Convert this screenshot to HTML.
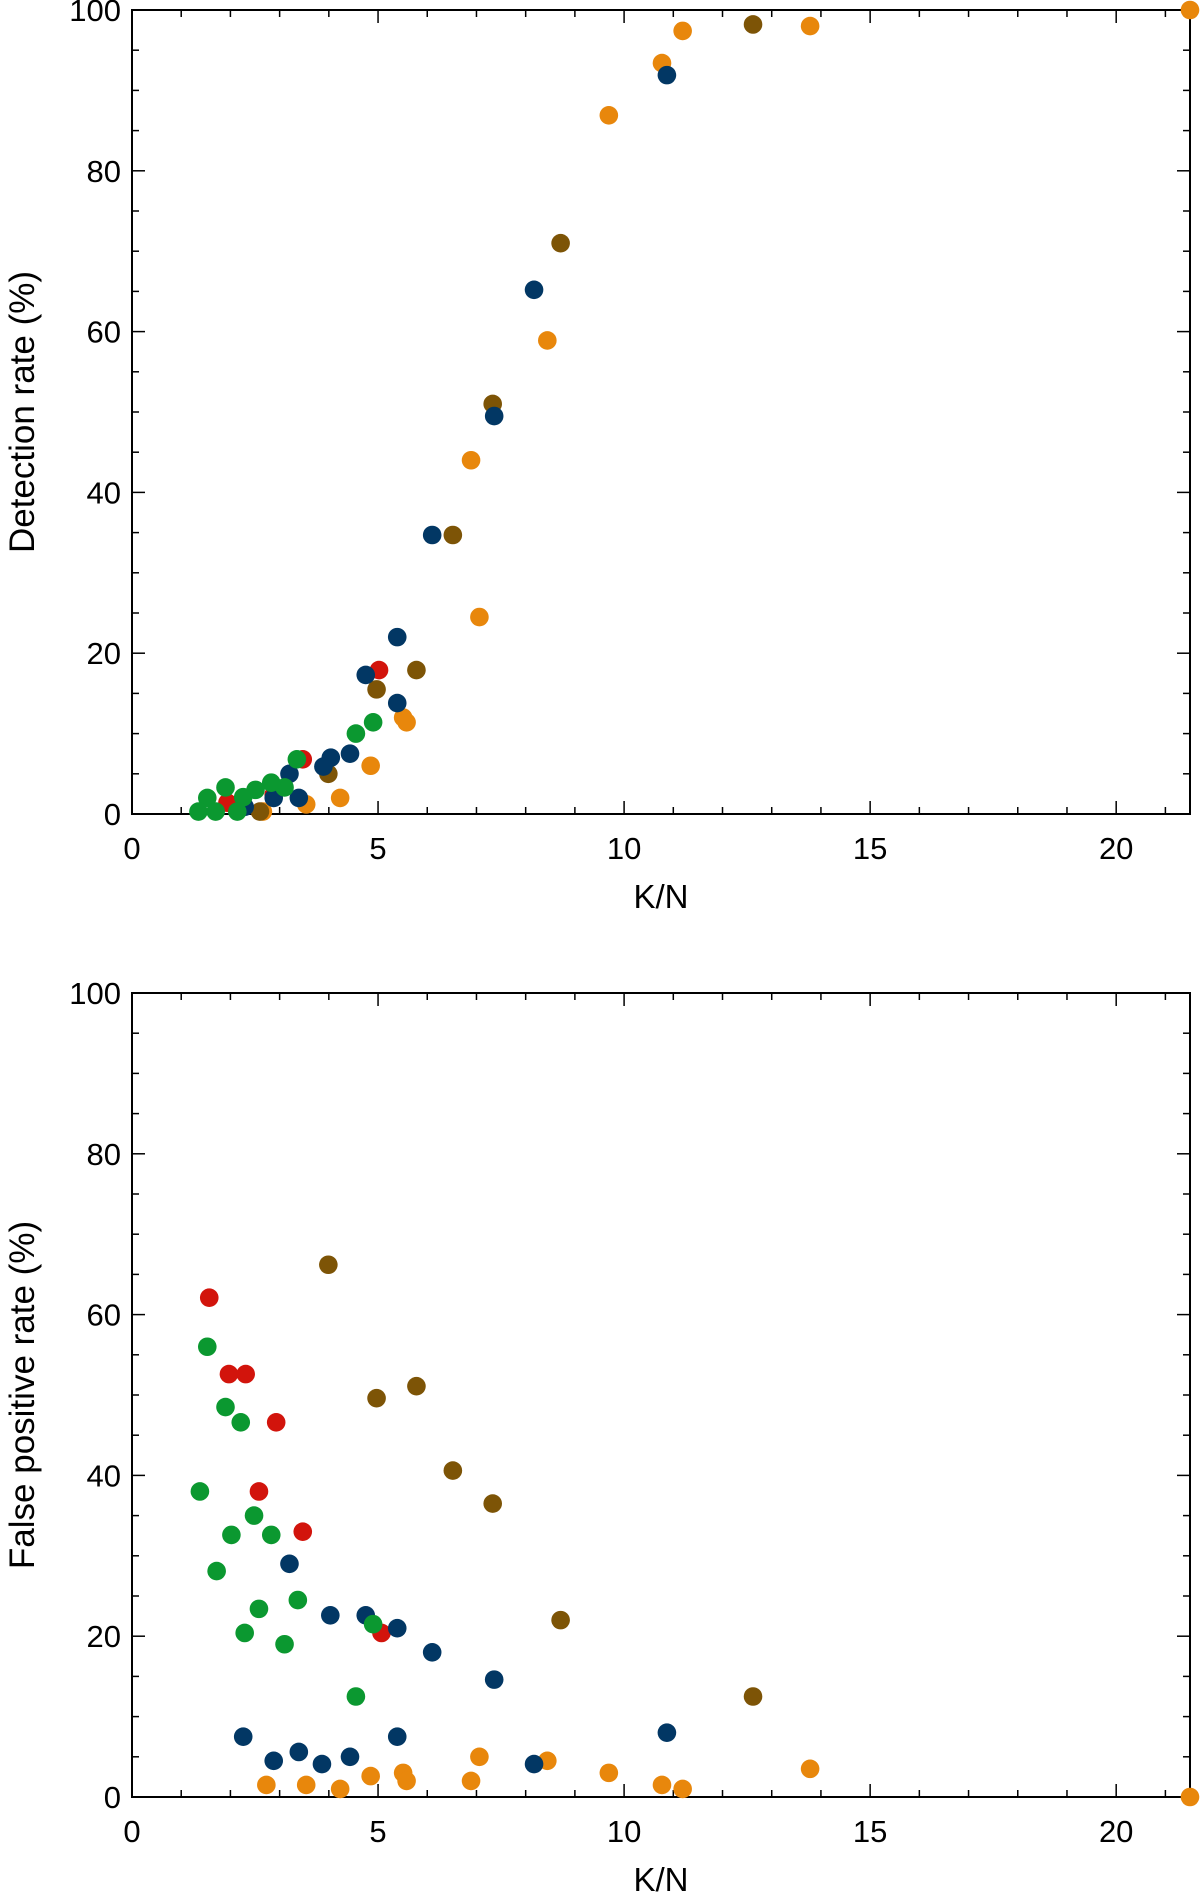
<!DOCTYPE html>
<html><head><meta charset="utf-8">
<style>
html,body{margin:0;padding:0;background:#fff;}
svg{display:block;font-family:"Liberation Sans",Arial,sans-serif;}
</style></head>
<body>
<svg id="chart" width="1200" height="1896" viewBox="0 0 1200 1896" xmlns="http://www.w3.org/2000/svg"></svg>
<script>
const xTicks=[0,5,10,15,20];
const yTicks=[0,20,40,60,80,100];
const seriesNames=['red','orange','brown','navy','green'];
const seriesColors={red:'#d2140c',orange:'#e8870c',brown:'#7d5406',navy:'#023764',green:'#0b9830'};
// detection rate
const detRedX=[5.02,3.47,1.94,2.88];
const detRedY=[17.9,6.8,1.4,2.4];
const detOrangeX=[10.77,11.19,13.78,21.5,9.69,8.44,6.89,7.06,5.51,5.58,4.85,4.23,3.54,2.66];
const detOrangeY=[93.4,97.4,98,100,86.9,58.9,44,24.5,12,11.4,6,2,1.2,0.3];
const detBrownX=[12.62,8.71,7.33,6.52,5.78,4.97,3.99,2.6];
const detBrownY=[98.2,71,51,34.7,17.9,15.5,5,0.3];
const detNavyX=[10.87,8.17,7.36,6.10,5.39,5.39,4.75,4.43,4.04,3.89,3.39,3.2,2.88,2.29];
const detNavyY=[91.9,65.2,49.5,34.7,22,13.8,17.3,7.5,7,5.9,2,5,2,0.9];
const detGreenX=[4.9,4.55,3.35,3.1,2.83,2.51,2.26,1.9,1.53,1.35,1.7,2.14];
const detGreenY=[11.4,10,6.8,3.3,3.9,3,2.1,3.3,2,0.3,0.3,0.3];
// false positive rate
const fpRedX=[1.57,1.97,2.31,2.93,2.58,3.47,5.07];
const fpRedY=[62.1,52.6,52.6,46.6,38,33,20.4];
const fpOrangeX=[2.73,3.54,4.23,4.85,5.51,5.58,6.89,7.06,8.44,9.69,10.77,11.19,13.78,21.5];
const fpOrangeY=[1.5,1.5,1,2.6,3,2,2,5,4.5,3,1.5,1,3.5,0];
const fpBrownX=[3.99,4.97,5.78,6.52,7.33,8.71,12.62];
const fpBrownY=[66.2,49.6,51.1,40.6,36.5,22,12.5];
const fpNavyX=[3.2,4.03,4.75,5.39,6.1,7.36,10.87,2.26,5.39,3.39,4.43,2.88,3.86,8.17];
const fpNavyY=[29,22.6,22.6,21,18,14.6,8,7.5,7.5,5.6,5,4.5,4.1,4.1];
const fpGreenX=[1.53,1.9,2.21,1.38,2.02,2.48,2.83,1.72,2.58,3.37,2.29,3.1,4.9,4.55];
const fpGreenY=[56,48.5,46.6,38,32.6,35,32.6,28.1,23.4,24.5,20.4,19,21.5,12.5];

const NS='http://www.w3.org/2000/svg';
const svg=document.getElementById('chart');
function mk(tag,attrs,parent){const e=document.createElementNS(NS,tag);for(const k in attrs)e.setAttribute(k,attrs[k]);(parent||svg).appendChild(e);return e;}

function panel(key,top,bottom,ytitle,data){
  const L=132,R=1190,xmax=21.5;
  const X=v=>L+(v/xmax)*(R-L);
  const Y=v=>bottom-(v/100)*(bottom-top);
  const g=mk('g',{});
  
  
  const fr=mk('rect',{x:L,y:top,width:R-L,height:bottom-top,fill:'none',stroke:'#000','stroke-width':2},g);
  
  
  for(let v=0;v<=21;v++){
    const maj=v%5===0;const len=maj?13:7;
    mk('line',{x1:X(v),x2:X(v),y1:bottom,y2:bottom-len,stroke:'#000','stroke-width':1.5},g);
    mk('line',{x1:X(v),x2:X(v),y1:top,y2:top+len,stroke:'#000','stroke-width':1.5},g);
  }
  for(let v=0;v<=100;v+=5){
    const maj=v%20===0;const len=maj?13:7;
    mk('line',{x1:L,x2:L+len,y1:Y(v),y2:Y(v),stroke:'#000','stroke-width':1.5},g);
    mk('line',{x1:R,x2:R-len,y1:Y(v),y2:Y(v),stroke:'#000','stroke-width':1.5},g);
  }
  xTicks.forEach(v=>{
    const t=mk('text',{x:X(v),y:bottom+45,'font-size':31,'text-anchor':'middle'},g);t.textContent=v;
    
    
  });
  yTicks.forEach(v=>{
    const t=mk('text',{x:121,y:Y(v)+11,'font-size':31,'text-anchor':'end'},g);t.textContent=v;
    
    
  });
  const xt=mk('text',{x:X(10.75),y:bottom+94,'font-size':33,'text-anchor':'middle'},g);xt.textContent='K/N';
  
  
  const cy=(top+bottom)/2;
  const yt=mk('text',{x:0,y:0,'font-size':35,'text-anchor':'middle',transform:`translate(34,${cy}) rotate(-90)`},g);yt.textContent=ytitle;
  
  
  seriesNames.forEach(s=>{
    const xs=data[s][0],ys=data[s][1];
    for(let i=0;i<xs.length;i++){
      const c=mk('circle',{cx:X(xs[i]),cy:Y(ys[i]),r:9.3,fill:seriesColors[s]},g);
      
      
    }
  });
}
panel('detection',10,814,'Detection rate (%)',{red:[detRedX,detRedY],orange:[detOrangeX,detOrangeY],brown:[detBrownX,detBrownY],navy:[detNavyX,detNavyY],green:[detGreenX,detGreenY]});
panel('false-positive',993,1797,'False positive rate (%)',{red:[fpRedX,fpRedY],orange:[fpOrangeX,fpOrangeY],brown:[fpBrownX,fpBrownY],navy:[fpNavyX,fpNavyY],green:[fpGreenX,fpGreenY]});
</script>
</body></html>
